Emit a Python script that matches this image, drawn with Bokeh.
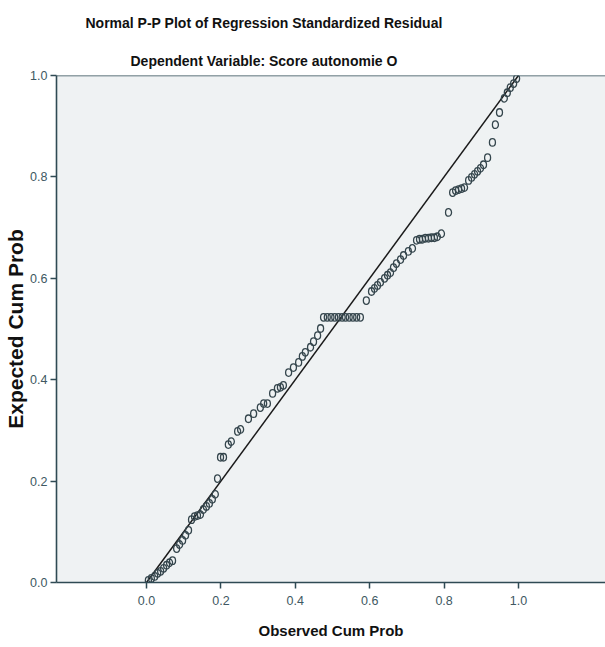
from bokeh.plotting import figure
from bokeh.models import Range1d, FixedTicker, Span, Title, ColumnDataSource, NumeralTickFormatter
from bokeh.embed import file_html
from bokeh.resources import INLINE

# Observed cumulative probability (x) and expected cumulative probability (y)
observed = [0.005, 0.013, 0.022, 0.030, 0.038, 0.046, 0.054, 0.062, 0.070, 0.081,
            0.089, 0.097, 0.105, 0.113, 0.121, 0.129, 0.137, 0.145, 0.153, 0.161,
            0.169, 0.177, 0.185, 0.191, 0.199, 0.207, 0.220, 0.228, 0.245, 0.253,
            0.274, 0.288, 0.306, 0.315, 0.325, 0.339, 0.352, 0.360, 0.368, 0.382,
            0.395, 0.409, 0.419, 0.427, 0.441, 0.449, 0.460, 0.468,
            0.476, 0.486, 0.496, 0.506, 0.516, 0.526, 0.535, 0.545, 0.555, 0.565, 0.575,
            0.591, 0.605, 0.613, 0.621, 0.629, 0.640, 0.648, 0.656, 0.664, 0.672,
            0.683, 0.691, 0.704, 0.715, 0.726, 0.734, 0.742, 0.750, 0.758, 0.766,
            0.774, 0.782, 0.793, 0.812, 0.823, 0.831, 0.839, 0.847, 0.855, 0.866,
            0.874, 0.882, 0.890, 0.898, 0.906, 0.917, 0.930, 0.938, 0.949, 0.962,
            0.970, 0.978, 0.987, 0.995]
expected = [0.004, 0.008, 0.012, 0.018, 0.022, 0.028, 0.034, 0.039, 0.043, 0.067,
            0.075, 0.083, 0.093, 0.103, 0.124, 0.130, 0.132, 0.134, 0.144, 0.150,
            0.156, 0.164, 0.174, 0.205, 0.247, 0.247, 0.272, 0.278, 0.298, 0.302,
            0.323, 0.333, 0.345, 0.353, 0.353, 0.373, 0.383, 0.385, 0.389, 0.414,
            0.424, 0.434, 0.446, 0.454, 0.464, 0.475, 0.487, 0.501,
            0.523, 0.523, 0.523, 0.523, 0.523, 0.523, 0.523, 0.523, 0.523, 0.523, 0.523,
            0.556, 0.574, 0.580, 0.586, 0.592, 0.600, 0.606, 0.611, 0.621, 0.629,
            0.637, 0.645, 0.653, 0.659, 0.675, 0.677, 0.677, 0.679, 0.679, 0.680,
            0.680, 0.682, 0.688, 0.730, 0.769, 0.773, 0.775, 0.777, 0.779, 0.793,
            0.799, 0.805, 0.811, 0.817, 0.824, 0.838, 0.868, 0.903, 0.927, 0.955,
            0.966, 0.976, 0.984, 0.994]

ref_x = [0.0, 1.0]
ref_y = [0.0, 1.0]
tick_values = [0.0, 0.2, 0.4, 0.6, 0.8, 1.0]

title_text = "Normal P-P Plot of Regression Standardized Residual"
subtitle_text = "Dependent Variable: Score autonomie O"
x_label = "Observed Cum Prob"
y_label = "Expected Cum Prob"

FONT = "'Liberation Sans', Arial, sans-serif"
AXIS_COLOR = "#2f4a54"
TICK_COLOR = "#405862"

p = figure(width=605, height=647, output_backend="svg", toolbar_location=None,
           x_range=Range1d(-0.242, 1.234), y_range=Range1d(0.0, 1.0),
           min_border_left=56, min_border_right=0, min_border_top=75, min_border_bottom=65,
           title=None)
p.background_fill_color = "#eff2f3"
p.border_fill_color = "white"
p.outline_line_color = None
p.xgrid.visible = False
p.ygrid.visible = False

for ax in (p.xaxis[0], p.yaxis[0]):
    ax.ticker = FixedTicker(ticks=tick_values)
    ax.formatter = NumeralTickFormatter(format="0.0")
    ax.minor_tick_line_color = None
    ax.major_tick_in = 0
    ax.major_tick_out = 6
    ax.major_tick_line_color = AXIS_COLOR
    ax.major_tick_line_width = 1.5
    ax.axis_line_color = AXIS_COLOR
    ax.axis_line_width = 1.6
    ax.major_label_text_font = FONT
    ax.major_label_text_font_size = "12.5px"
    ax.major_label_text_color = TICK_COLOR
    ax.axis_label_text_color = "#111111"
    ax.axis_label_text_font_style = "bold"
    ax.axis_label_text_font = FONT

p.xaxis.axis_label = x_label
p.xaxis.axis_label_text_font_size = "15px"
p.xaxis.major_label_standoff = 7
p.xaxis.axis_label_standoff = 14

p.yaxis.axis_label = y_label
p.yaxis.axis_label_text_font_size = "21px"
p.yaxis.major_label_standoff = 3
p.yaxis.axis_label_standoff = 0

p.add_layout(Span(location=1.0, dimension="width", line_color=AXIS_COLOR, line_width=1.6))

p.line(ref_x, ref_y, line_color="#1a1a1a", line_width=1.5)

src = ColumnDataSource(data=dict(x=observed, y=expected))
p.ellipse(x="x", y="y", width=6, height=7.5, width_units="screen", height_units="screen",
          source=src, fill_color=None, line_color="#34454c", line_width=1.3)

p.add_layout(Title(text=subtitle_text, align="left", offset=74, text_font=FONT,
                   text_font_size="14px", text_font_style="bold", text_color="#111111",
                   standoff=14), "above")
p.add_layout(Title(text=title_text, align="left", offset=29, text_font=FONT,
                   text_font_size="14px", text_font_style="bold", text_color="#111111",
                   standoff=25), "above")

open("out.html", "w").write(file_html(p, INLINE))
